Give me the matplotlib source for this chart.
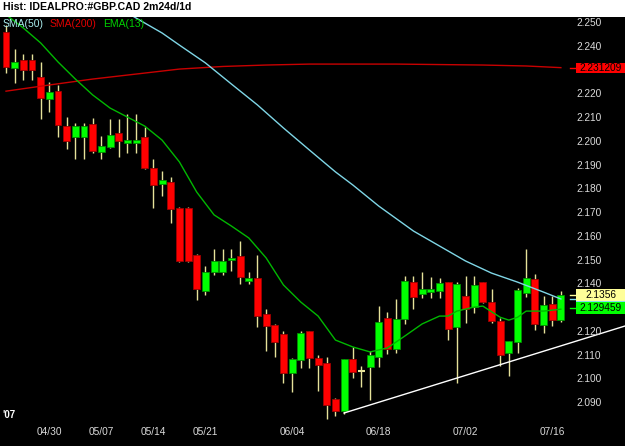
import matplotlib
matplotlib.use("Agg")
from matplotlib import pyplot as plt
from matplotlib import transforms
from matplotlib.patches import Rectangle

# daily GBP.CAD candles
opens = [2.2461, 2.2309, 2.2344, 2.2344, 2.2273, 2.2180, 2.2214, 2.2065, 2.2021, 2.2021,
         2.2073, 2.1958, 2.1977, 2.2036, 2.1996, 2.1996, 2.2020, 2.1889, 2.1821, 2.1829,
         2.1722, 2.1722, 2.1523, 2.1373, 2.1452, 2.1452, 2.1501, 2.1519, 2.1414, 2.1428,
         2.1275, 2.1228, 2.1191, 2.1028, 2.1081, 2.1203, 2.1088, 2.1067, 2.0916, 2.0868,
         2.1087, 2.1035, 2.1053, 2.1092, 2.1257, 2.1129, 2.1252, 2.1409, 2.1360, 2.1369,
         2.1372, 2.1408, 2.1221, 2.1352, 2.1305, 2.1408, 2.1327, 2.1247, 2.1109, 2.1158,
         2.1362, 2.1422, 2.1230, 2.1317, 2.1249]
highs = [2.2492, 2.2389, 2.2369, 2.2369, 2.2337, 2.2250, 2.2238, 2.2104, 2.2078, 2.2078,
         2.2099, 2.2024, 2.2096, 2.2096, 2.2117, 2.2117, 2.2063, 2.1926, 2.1878, 2.1853,
         2.1727, 2.1727, 2.1527, 2.1477, 2.1548, 2.1548, 2.1548, 2.1581, 2.1452, 2.1523,
         2.1296, 2.1233, 2.1203, 2.1088, 2.1203, 2.1203, 2.1102, 2.1095, 2.0921, 2.1084,
         2.1137, 2.1056, 2.1120, 2.1308, 2.1284, 2.1337, 2.1435, 2.1435, 2.1450, 2.1429,
         2.1428, 2.1408, 2.1408, 2.1436, 2.1436, 2.1411, 2.1379, 2.1257, 2.1161, 2.1383,
         2.1548, 2.1443, 2.1352, 2.1352, 2.1372]
lows = [2.2291, 2.2246, 2.2260, 2.2260, 2.2095, 2.2127, 2.2021, 2.1969, 2.1926, 2.1926,
        2.1954, 2.1929, 2.1972, 2.1937, 2.1951, 2.1951, 2.1884, 2.1720, 2.1773, 2.1657,
        2.1492, 2.1492, 2.1334, 2.1353, 2.1440, 2.1440, 2.1457, 2.1401, 2.1401, 2.1221,
        2.1120, 2.1095, 2.0985, 2.0948, 2.1049, 2.1049, 2.0952, 2.0833, 2.0847, 2.0854,
        2.1007, 2.0969, 2.0913, 2.1053, 2.1106, 2.1109, 2.1231, 2.1297, 2.1341, 2.1341,
        2.1343, 2.1165, 2.0985, 2.1238, 2.1278, 2.1320, 2.1236, 2.1056, 2.1015, 2.1109,
        2.1348, 2.1207, 2.1196, 2.1224, 2.1242]
closes = [2.2316, 2.2336, 2.2302, 2.2302, 2.2185, 2.2209, 2.2071, 2.2002, 2.2068, 2.2068,
          2.1961, 2.1981, 2.2028, 2.2002, 2.2007, 2.2007, 2.1891, 2.1818, 2.1839, 2.1718,
          2.1497, 2.1497, 2.1381, 2.1452, 2.1499, 2.1499, 2.1508, 2.1429, 2.1425, 2.1268,
          2.1225, 2.1157, 2.1028, 2.1084, 2.1196, 2.1088, 2.1060, 2.0892, 2.0868, 2.1084,
          2.1029, 2.1035, 2.1102, 2.1242, 2.1127, 2.1252, 2.1415, 2.1348, 2.1380, 2.1376,
          2.1404, 2.1213, 2.1401, 2.1296, 2.1397, 2.1327, 2.1247, 2.1102, 2.1161, 2.1376,
          2.1428, 2.1231, 2.1311, 2.1249, 2.1356]

# indicator lines, sampled at bar numbers
sma50_idx = [10, 15, 18, 20, 23, 26, 29, 32, 35, 38, 40, 43, 47, 50, 53, 56, 59, 62, 64]
sma50_val = [2.2626, 2.2521, 2.2458, 2.2407, 2.2332, 2.2243, 2.2155, 2.2058, 2.1965, 2.1873,
             2.1818, 2.1729, 2.1624, 2.1561, 2.1498, 2.1447, 2.1409, 2.1367, 2.1338]
sma200_idx = [0, 5, 10, 15, 20, 25, 30, 35, 40, 45, 50, 55, 60, 64]
sma200_val = [2.2213, 2.2239, 2.2264, 2.2285, 2.2306, 2.2317, 2.2323, 2.2327, 2.2327, 2.2327,
              2.2325, 2.2323, 2.2319, 2.2312]
ema13_idx = [0, 2, 4, 6, 8, 10, 12, 14, 16, 18, 20, 22, 24, 26, 28, 30, 32, 34, 36, 38,
             40, 42, 44, 46, 48, 50, 51, 52, 54, 55, 57, 58, 59, 60, 62, 64]
ema13_val = [2.2535, 2.2479, 2.2416, 2.2336, 2.2264, 2.2197, 2.2142, 2.2104, 2.2066, 2.2007,
             2.1915, 2.1788, 2.1692, 2.1645, 2.1595, 2.1511, 2.1397, 2.1325, 2.1266, 2.1165,
             2.1136, 2.1115, 2.1132, 2.1182, 2.1233, 2.1266, 2.1266, 2.1287, 2.1304, 2.1308,
             2.1261, 2.1249, 2.1261, 2.1287, 2.1287, 2.1295]
trend_idx = [39, 72]
trend_val = [2.0858, 2.1231]

date_idx = [5, 11, 17, 23, 33, 43, 53, 63]
date_lbl = ["04/30", "05/07", "05/14", "05/21", "06/04", "06/18", "07/02", "07/16"]
price_ticks = [2.09 + 0.01 * k for k in range(17)]

W, H = 625, 446
fig = plt.figure(figsize=(W / 100, H / 100), dpi=100, facecolor="white")
ax = fig.add_axes([0, 0, 1, (H - 17) / H], facecolor="black")
for s in ax.spines.values():
    s.set_visible(False)
ax.set_xticks([])
ax.set_yticks([])

step = 8.67
ax.set_xlim(-6 / step, (W - 6) / step)
ax.set_ylim(2.250 - (H - 23) / 2375, 2.250 + 6 / 2375)

n = len(closes)
xs = list(range(n))
ax.vlines(xs, lows, highs, color="#E6E29A", lw=1, zorder=2)
for i in xs:
    o, c = opens[i], closes[i]
    if c == o:
        ax.hlines(c, i - 0.4, i + 0.4, color="#E6E29A", lw=1.5, zorder=3)
        continue
    up = c > o
    ax.bar(i, max(abs(c - o), 0.0009), bottom=min(o, c), width=0.8,
           color="#00FF00" if up else "#FF0000",
           edgecolor="#009000" if up else "#A00000", lw=0.6, zorder=3)

ax.plot(sma200_idx, sma200_val, color="#C80000", lw=1, zorder=4)
ax.plot(sma50_idx, sma50_val, color="#7FD6E6", lw=1, zorder=4)
ax.plot(ema13_idx, ema13_val, color="#00B800", lw=1, zorder=4)
ax.plot(trend_idx, trend_val, color="white", lw=1, zorder=4)

# right price scale (2.230 and 2.130 sit under the value boxes)
tr = transforms.blended_transform_factory(ax.transAxes, ax.transData)
for p in price_ticks:
    if round(p, 3) in (2.23, 2.13):
        continue
    ax.text(589 / W, p, f"{p:.3f}", transform=tr, ha="center", va="center",
            color="#DADADA", fontsize=7.3, family="Liberation Sans", zorder=5)

# last value boxes; the cyan one is mostly hidden behind the others
ax.add_patch(Rectangle((576 / W, 2.1338 - 0.0021), 49 / W, 0.0042, transform=tr,
                       facecolor="#80E0F0", edgecolor="none", zorder=6))
ax.plot([570 / W, 576 / W], [2.1338, 2.1338], transform=tr, color="#80E0F0", lw=1, zorder=6)
boxes = [(2.2312, "2.231209", "#FF0000", 0.0021),
         (2.1356, "2.1356", "#FFFF99", 0.0025),
         (2.1300, "2.129459", "#00FF00", 0.0025)]
for val, txt, col, hh in boxes:
    ax.add_patch(Rectangle((576 / W, val - hh), 49 / W, 2 * hh, transform=tr,
                           facecolor=col, edgecolor="none", zorder=7))
    ax.plot([570 / W, 576 / W], [val, val], transform=tr, color=col, lw=1, zorder=7)
    ax.text(601 / W, val, txt, transform=tr, ha="center", va="center",
            color="black", fontsize=7.3, family="Liberation Sans", zorder=7)

# dates
dtr = transforms.blended_transform_factory(ax.transData, ax.transAxes)
for i, lbl in zip(date_idx, date_lbl):
    ax.text(i, 14 / (H - 17), lbl, transform=dtr,
            ha="center", va="center", color="#DADADA", fontsize=7.3, family="Liberation Sans")
ax.text(2 / W, 31 / (H - 17), "'07", transform=ax.transAxes, ha="left", va="center",
        color="white", fontsize=7, fontweight="bold", family="Liberation Sans")

# legend
ly = 1 - 7 / (H - 17)
for xp, txt, col in [(3, "SMA(50)", "#A8ECEC"), (50, "SMA(200)", "#E00000"), (103, "EMA(13)", "#00D000")]:
    ax.text(xp / W, ly, txt, transform=ax.transAxes, ha="left", va="center",
            color=col, fontsize=7.5, family="Liberation Sans", zorder=6)

fig.text(3 / W, 1 - 7 / H, "Hist: IDEALPRO:#GBP.CAD 2m24d/1d", ha="left", va="center",
         fontsize=7.6, fontweight="bold", family="Liberation Sans", color="black")

plt.savefig("out.png", dpi=100, facecolor="white")
